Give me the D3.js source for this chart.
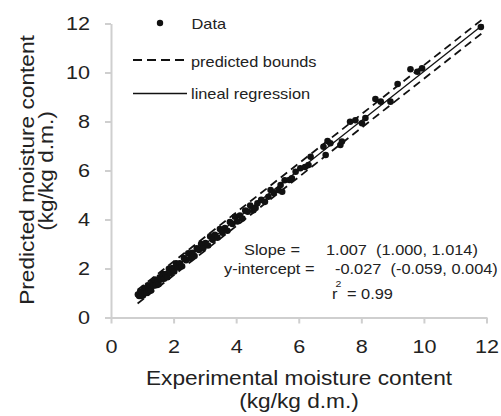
<!DOCTYPE html>
<html>
<head>
  <meta charset="utf-8">
  <title>Predicted vs experimental moisture</title>
  <script src="https://d3js.org/d3.v7.min.js"></script>
  <style>
    body { margin: 0; background: #fff; }
    text { font-family: "Liberation Sans", Arial, sans-serif; fill: #222; white-space: pre; }
  </style>
</head>
<body>
<script>
// experimental (x) vs predicted (y), kg/kg d.m.
var expX = [0.86,0.9,0.93,0.96,0.99,1.02,1.05,1.08,1.11,1.14,
  1.18,1.21,1.25,1.28,1.32,1.36,1.4,1.44,1.48,1.52,
  1.56,1.6,1.65,1.7,1.75,1.8,1.85,1.9,1.96,2.02,
  2.08,2.14,2.2,2.27,2.33,2.4,2.47,2.53,2.6,2.67,
  2.74,2.81,2.88,2.95,3.02,3.1,3.17,3.25,3.32,3.4,
  3.48,3.56,3.64,3.72,3.8,3.88,3.96,4.04,4.12,4.2,
  4.29,4.37,4.45,4.55,4.62,4.68,4.8,4.92,5.03,5.1,
  5.2,5.35,5.42,5.47,5.55,5.7,5.78,5.9,6.05,6.2,
  6.31,6.38,6.79,6.86,6.92,7.01,7.33,7.38,7.64,7.81,
  8.02,8.13,8.45,8.62,8.93,9.16,9.57,9.79,9.94,11.82];
var predY = [0.94,0.88,1.05,0.88,1.01,0.9,1.19,1.0,1.17,1.0,
  1.31,1.11,1.26,1.1,1.42,1.3,1.55,1.32,1.52,1.36,
  1.64,1.55,1.77,1.58,1.77,1.64,1.99,1.82,2.02,1.88,
  2.21,2.04,2.21,2.09,2.43,2.34,2.62,2.41,2.64,2.51,
  2.82,2.76,3.0,2.83,3.04,2.94,3.31,3.17,3.38,3.26,
  3.61,3.46,3.65,3.54,3.9,3.82,4.11,3.92,4.16,4.04,
  4.37,4.32,4.57,4.38,4.47,4.66,4.8,4.72,4.93,5.2,
  5.08,5.2,5.41,5.13,5.6,5.61,5.68,5.95,6.09,6.14,
  6.22,6.56,6.97,6.63,7.2,7.11,7.04,7.18,7.99,8.05,
  7.93,8.14,8.92,8.81,8.81,9.53,10.13,10.03,10.17,11.86];

// line end points
var lineX = [0.85, 11.9];
var fitY = [0.829, 11.956];
var upperY = [1.13, 12.2];
var lowerY = [0.57, 11.65];

var ticks = [0, 2, 4, 6, 8, 10, 12];
var legendLabels = ["Data", "predicted bounds", "lineal regression"];
var statLabels = ["Slope =", "y-intercept ="];
var statValues = ["1.007  (1.000, 1.014)", "-0.027  (-0.059, 0.004)"];
var r2Value = "= 0.99";

var w = 501, h = 416;
var SX = 1.17; // glyphs in the original are a bit wide

var svg = d3.select("body").append("svg")
  .attr("width", w)
  .attr("height", h);

var x = d3.scaleLinear().domain([0, 12]).range([111, 486.5]);
var y = d3.scaleLinear().domain([0, 12]).range([317.5, 23.5]);

// axes
var xAxis = svg.append("g")
  .attr("transform", "translate(0," + y(0) + ")")
  .call(d3.axisBottom(x).tickValues(ticks).tickSize(6).tickSizeOuter(0));
var yAxis = svg.append("g")
  .attr("transform", "translate(" + x(0) + ",0)")
  .call(d3.axisLeft(y).tickValues(ticks).tickSize(6).tickSizeOuter(0));

[xAxis, yAxis].forEach(function (g) {
  g.select(".domain").attr("stroke", "#cfcfcf").attr("stroke-width", 2);
  g.selectAll(".tick line").attr("stroke", "#cfcfcf").attr("stroke-width", 2);
  g.selectAll(".tick text")
    .attr("font-size", 18)
    .attr("fill", "#222")
    .style("font-family", "'Liberation Sans', Arial, sans-serif");
});
xAxis.selectAll(".tick text")
  .attr("y", 0).attr("dy", null)
  .attr("transform", "translate(0,35.5) scale(1.2,1)");
yAxis.selectAll(".tick text")
  .attr("x", 0).attr("dy", "0.35em")
  .attr("transform", "translate(-21,0) scale(1.2,1)");

// bounds and fit
var line = d3.line()
  .x(function (d) { return x(d[0]); })
  .y(function (d) { return y(d[1]); });

[upperY, lowerY].forEach(function (ys) {
  svg.append("path")
    .datum(d3.zip(lineX, ys))
    .attr("d", line)
    .attr("fill", "none")
    .attr("stroke", "#111")
    .attr("stroke-width", 1.8)
    .attr("stroke-dasharray", "8,5");
});
svg.append("path")
  .datum(d3.zip(lineX, fitY))
  .attr("d", line)
  .attr("fill", "none")
  .attr("stroke", "#111")
  .attr("stroke-width", 1.3);

// data points
svg.selectAll("circle.pt")
  .data(d3.zip(expX, predY))
  .enter()
  .append("circle")
  .attr("class", "pt")
  .attr("cx", function (d) { return x(d[0]); })
  .attr("cy", function (d) { return y(d[1]); })
  .attr("r", 3.3)
  .attr("fill", "#111");

function label(txt, px, py, size, anchor, sx) {
  return svg.append("text")
    .attr("transform", "translate(" + px + "," + py + ") scale(" + (sx || SX) + ",1)")
    .attr("font-size", size)
    .attr("text-anchor", anchor || "start")
    .text(txt);
}

// legend
svg.append("circle").attr("cx", 160).attr("cy", 23).attr("r", 3.2).attr("fill", "#111");
svg.append("line").attr("x1", 133).attr("x2", 185).attr("y1", 60).attr("y2", 60)
  .attr("stroke", "#111").attr("stroke-width", 1.8).attr("stroke-dasharray", "9,5");
svg.append("line").attr("x1", 133).attr("x2", 187).attr("y1", 93.5).attr("y2", 93.5)
  .attr("stroke", "#111").attr("stroke-width", 1.3);
label(legendLabels[0], 191.5, 28.5, 14);
label(legendLabels[1], 191, 66.5, 14);
label(legendLabels[2], 191, 99, 14);

// statistics
label(statLabels[0], 244, 255, 14);
label(statLabels[1], 224, 274, 14);
label(statValues[0], 326, 255, 14);
label(statValues[1], 335, 274, 14);
label("r", 332, 299, 14);
label("2", 335.5, 287, 9);
label(r2Value, 347, 299, 14);

// axis titles
label("Experimental moisture content", 299, 385, 21, "middle", 1.08);
label("(kg/kg d.m.)", 299, 408, 21, "middle", 1.08);
svg.append("text")
  .attr("transform", "translate(34,170) rotate(-90) scale(1.08,1)")
  .attr("font-size", 21)
  .attr("text-anchor", "middle")
  .text("Predicted moisture content");
svg.append("text")
  .attr("transform", "translate(53,171) rotate(-90) scale(1.08,1)")
  .attr("font-size", 21)
  .attr("text-anchor", "middle")
  .text("(kg/kg d.m.)");
</script>
</body>
</html>
